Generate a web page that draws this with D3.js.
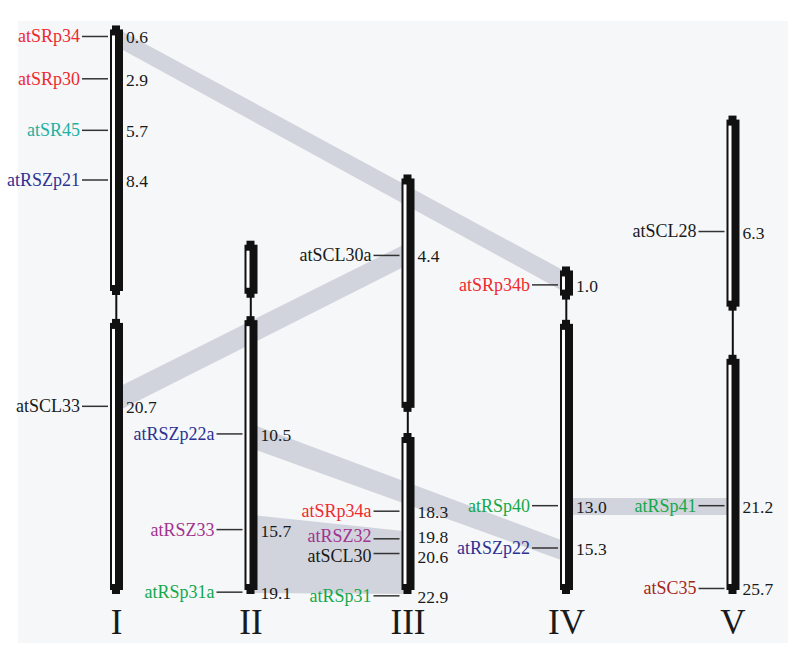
<!DOCTYPE html>
<html>
<head>
<meta charset="utf-8">
<script src="https://cdn.jsdelivr.net/npm/d3@7"></script>
<style>
  html, body { margin: 0; padding: 0; background: #ffffff; }
  svg { display: block; }
</style>
</head>
<body>
<svg id="chart" width="800" height="657"></svg>
<script>
// ---------------- DATA ----------------
const chromosomes = ["I", "II", "III", "IV", "V"];
const chromLengths = [30.9, 19.2, 22.8, 17.8, 26.0];        // Mb
const centromereStart = [14.65, 3.1, 12.9, 1.8, 10.6];      // Mb
const centromereEnd   = [15.95, 4.1, 14.05, 2.9, 13.0];     // Mb

const geneNames = ["atSRp34", "atSRp30", "atSR45", "atRSZp21", "atSCL33",
                   "atRSZp22a", "atRSZ33", "atRSp31a",
                   "atSCL30a", "atSRp34a", "atRSZ32", "atSCL30", "atRSp31",
                   "atSRp34b", "atRSp40", "atRSZp22",
                   "atSCL28", "atRSp41", "atSC35"];
const geneChrom = ["I", "I", "I", "I", "I",
                   "II", "II", "II",
                   "III", "III", "III", "III", "III",
                   "IV", "IV", "IV",
                   "V", "V", "V"];
const genePos = [0.6, 2.9, 5.7, 8.4, 20.7,
                 10.5, 15.7, 19.1,
                 4.4, 18.3, 19.8, 20.6, 22.9,
                 1.0, 13.0, 15.3,
                 6.3, 21.2, 25.7];
const geneFamily = ["SR", "SR", "SR45", "RSZp", "SCL",
                    "RSZp", "RSZ", "RSp",
                    "SCL", "SR", "RSZ", "SCL", "RSp",
                    "SR", "RSp", "RSZp",
                    "SCL", "RSp", "SC"];

const families = ["SR", "SR45", "RSZp", "RSZ", "RSp", "SCL", "SC"];
const familyColors = ["#ee2a2f", "#1fb0a0", "#2e3192", "#a2338f", "#15a84a", "#1a1a1a", "#a6261c"];

// duplicated segments (Mb)
const bandFromChrom = ["I", "I", "II", "II", "IV"];
const bandFromStart = [0.15, 19.7, 9.96, 14.9, 12.58];
const bandFromEnd   = [1.15, 21.0, 11.27, 19.15, 13.5];
const bandToChrom   = ["IV", "III", "IV", "III", "V"];
const bandToStart   = [0.3, 3.7, 14.97, 19.4, 20.78];
const bandToEnd     = [1.45, 4.9, 16.06, 22.8, 21.7];

// ---------------- LAYOUT ----------------
const svg = d3.select("#chart");
const FONT = "'Liberation Serif', 'Times New Roman', serif";
const bottomY = 594;
const pxPerMb = 18.4;
const labelSize = 18;
const numSize = 17.5;

const x = d3.scaleOrdinal().domain(chromosomes).range([116.5, 251, 408, 566.5, 733]);
// each chromosome aligned at the bottom; a linear scale per chromosome
const yScales = {};
chromosomes.forEach((c, i) => {
  yScales[c] = d3.scaleLinear().domain([0, chromLengths[i]])
    .range([bottomY - chromLengths[i] * pxPerMb, bottomY]);
});
const color = d3.scaleOrdinal().domain(families).range(familyColors);

// background panel
svg.append("rect").attr("x", 18).attr("y", 21).attr("width", 770).attr("height", 622)
  .attr("fill", "#f5f7f9");

// ---------------- BANDS ----------------
const bands = bandFromChrom.map((c, i) => ({
  a: c, a0: bandFromStart[i], a1: bandFromEnd[i],
  b: bandToChrom[i], b0: bandToStart[i], b1: bandToEnd[i]
}));
svg.append("g").selectAll("path").data(bands).join("path")
  .attr("d", d => {
    const xa = x(d.a), xb = x(d.b);
    const ya = yScales[d.a], yb = yScales[d.b];
    return `M${xa},${ya(d.a0)}L${xb},${yb(d.b0)}L${xb},${yb(d.b1)}L${xa},${ya(d.a1)}Z`;
  })
  .attr("fill", "#c4c8d1")
  .attr("fill-opacity", 0.75);

// ---------------- CHROMOSOMES ----------------
const chromG = svg.append("g");
chromosomes.forEach((c, i) => {
  const cx = x(c), y = yScales[c];
  const arms = [[0, centromereStart[i]], [centromereEnd[i], chromLengths[i]]];
  const g = chromG.append("g");
  g.append("rect").attr("x", cx - 1.2).attr("width", 2)
    .attr("y", y(centromereStart[i]) - 2).attr("height", y(centromereEnd[i]) - y(centromereStart[i]) + 4)
    .attr("fill", "#111");
  arms.forEach(([a, b]) => {
    const y0 = y(a), y1 = y(b);
    g.append("rect").attr("x", cx - 4.5).attr("width", 8).attr("y", y0).attr("height", y1 - y0)
      .attr("fill", "#111");
    g.append("rect").attr("x", cx - 6.5).attr("width", 13).attr("y", y0 + 4).attr("height", y1 - y0 - 8)
      .attr("fill", "#111");
    if (y1 - y0 > 22) {
      g.append("rect").attr("x", cx - 4.5).attr("width", 3).attr("y", y0 + 10).attr("height", y1 - y0 - 20)
        .attr("fill", "#ffffff");
    }
  });
});

// ---------------- GENES ----------------
const genes = geneNames.map((n, i) => ({ name: n, chrom: geneChrom[i], pos: genePos[i], fam: geneFamily[i] }));
genes.forEach(d => { d.ty = yScales[d.chrom](d.pos); d.ly = d.ty; });
// simple vertical de-overlap of labels on the same chromosome
const minSep = 20.5;
chromosomes.forEach(c => {
  const gs = genes.filter(d => d.chrom === c).sort((a, b) => a.pos - b.pos);
  for (let it = 0; it < 30; it++) {
    for (let k = 1; k < gs.length; k++) {
      const gap = gs[k].ly - gs[k - 1].ly;
      if (gap < minSep) {
        const push = (minSep - gap) / 2;
        gs[k].ly += push; gs[k - 1].ly -= push;
      }
    }
  }
});

const geneG = svg.append("g");
geneG.selectAll("line").data(genes).join("line")
  .attr("x1", d => x(d.chrom) - 34.5).attr("x2", d => x(d.chrom) - 8.5)
  .attr("y1", d => d.ty).attr("y2", d => d.ty)
  .attr("stroke", "#333").attr("stroke-width", 1.5);
geneG.selectAll("text.name").data(genes).join("text").attr("class", "name")
  .attr("x", d => x(d.chrom) - 36.5)
  .attr("y", d => d.ly)
  .attr("dy", "0.33em")
  .attr("text-anchor", "end")
  .attr("font-family", FONT).attr("font-size", labelSize)
  .attr("fill", d => color(d.fam))
  .text(d => d.name);
geneG.selectAll("text.pos").data(genes).join("text").attr("class", "pos")
  .attr("x", d => x(d.chrom) + 9.5)
  .attr("y", d => d.ly)
  .attr("dy", "0.4em")
  .attr("font-family", FONT).attr("font-size", numSize)
  .attr("fill", "#1a1a1a")
  .text(d => d3.format(".1f")(d.pos));

// ---------------- CHROMOSOME NAMES ----------------
svg.append("g").selectAll("text").data(chromosomes).join("text")
  .attr("x", d => x(d)).attr("y", 634)
  .attr("text-anchor", "middle")
  .attr("font-family", FONT).attr("font-size", 35)
  .attr("fill", "#1a1a1a")
  .text(d => d);
</script>
</body>
</html>
